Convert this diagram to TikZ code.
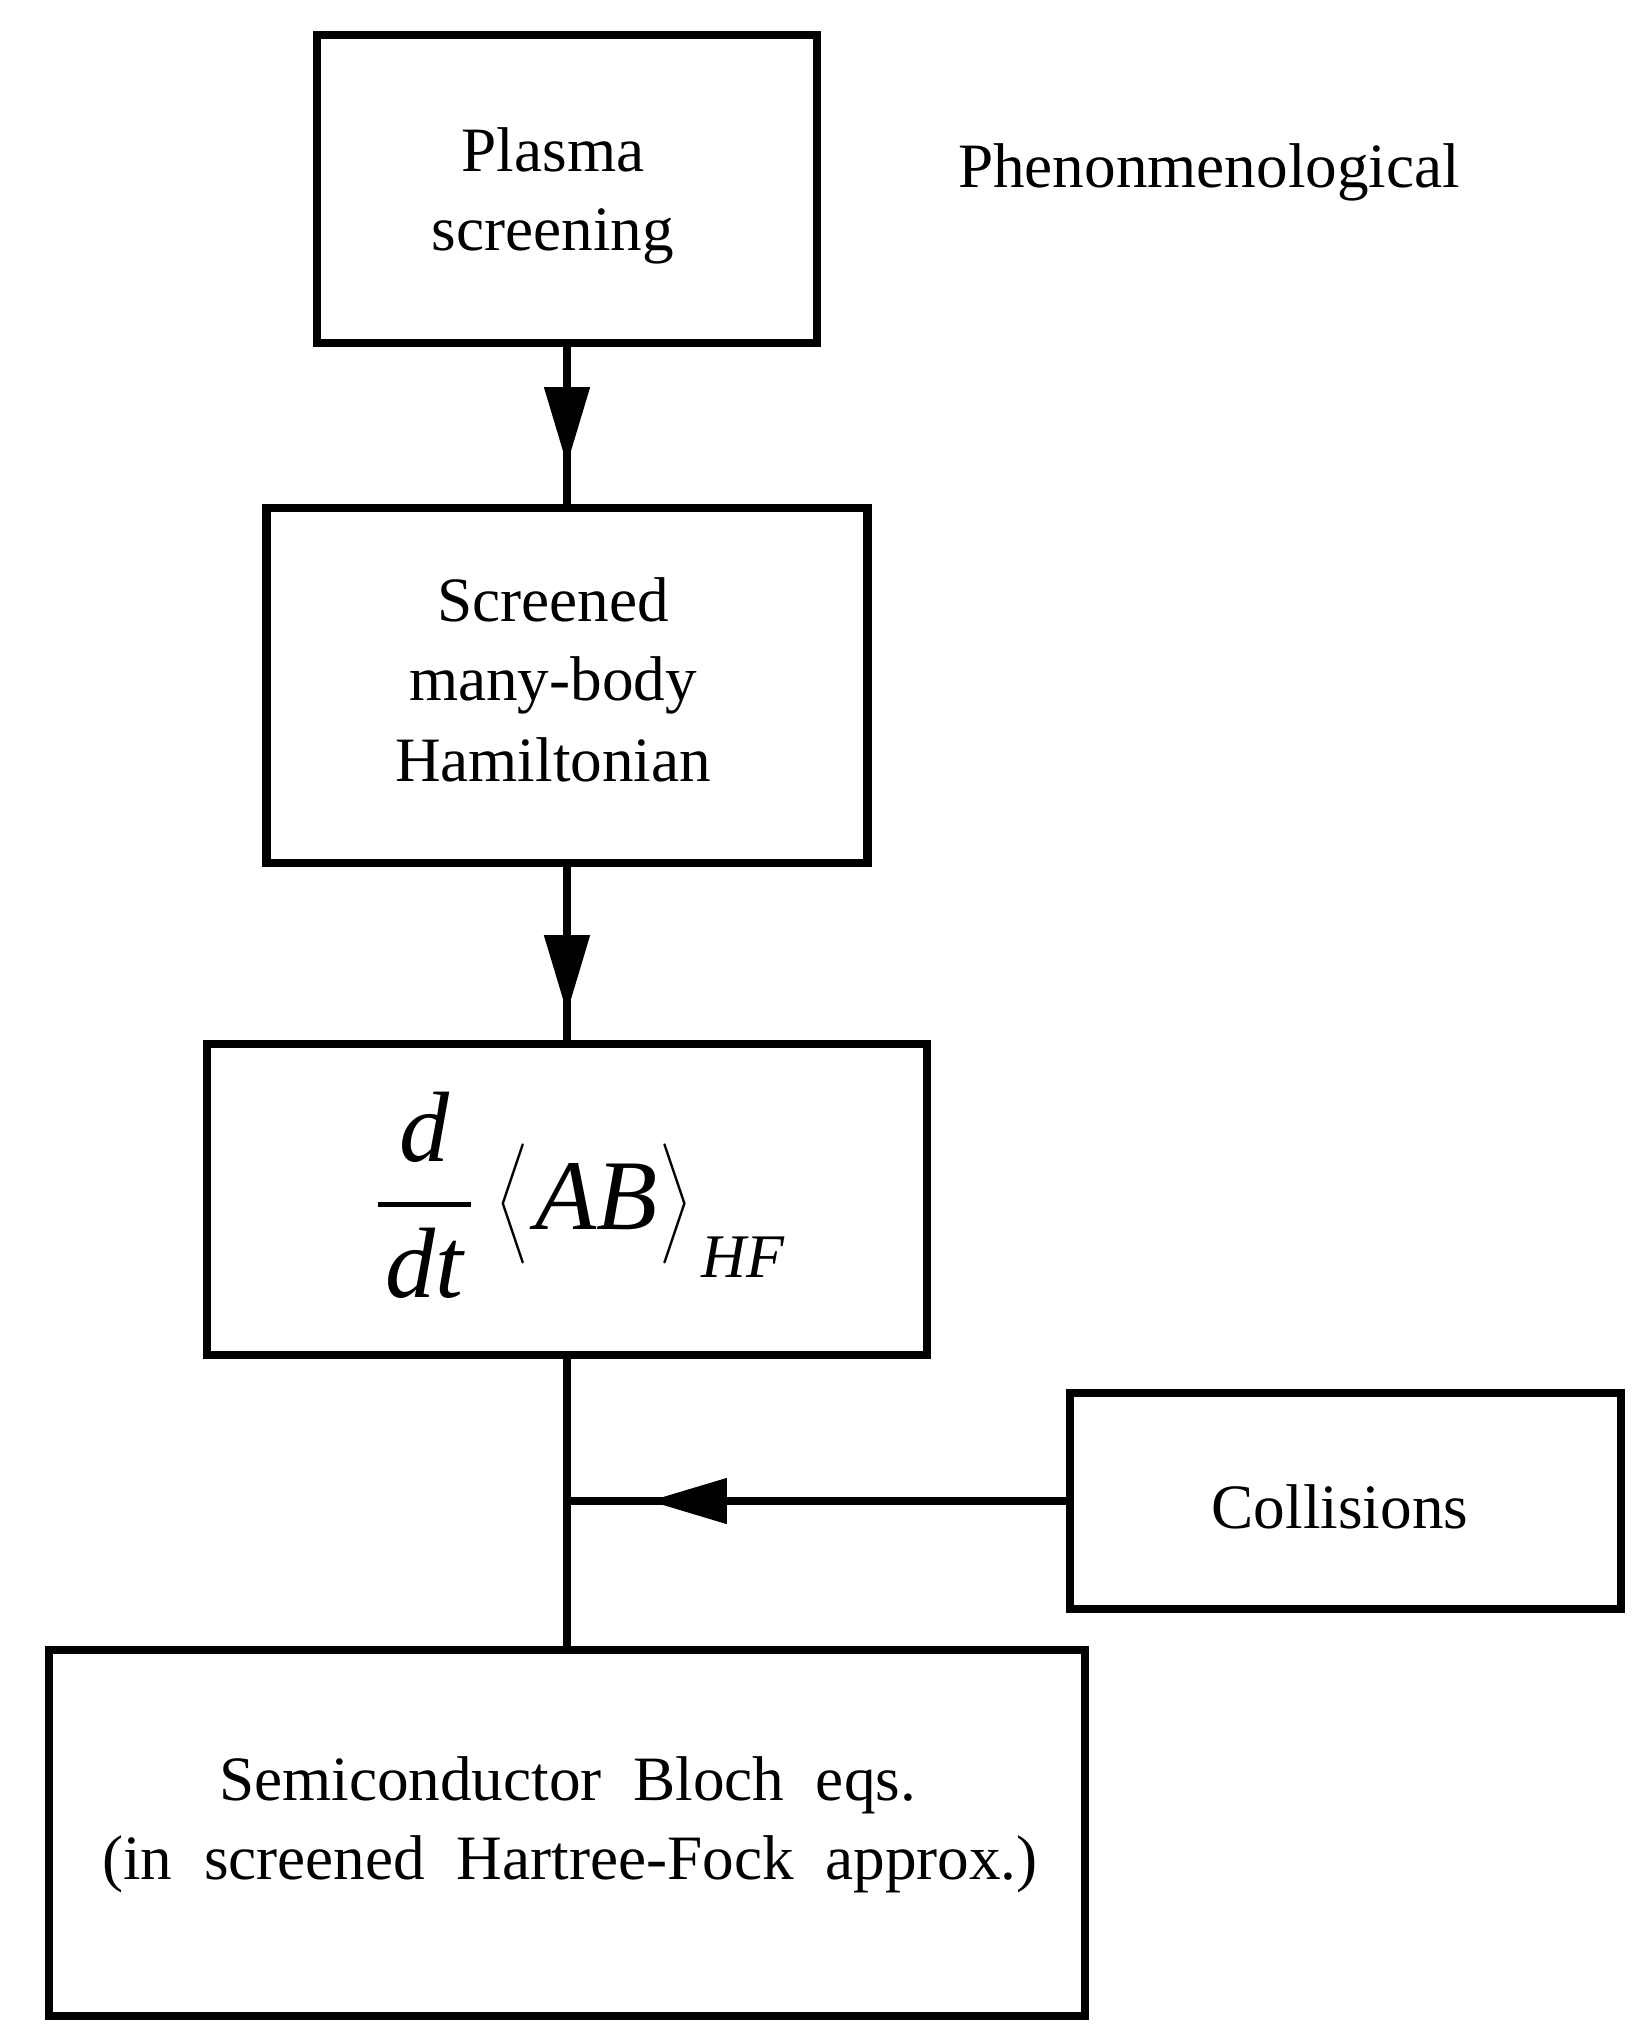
\documentclass[tikz,border=0pt]{standalone}
\usepackage{fontspec}
\setmainfont{Liberation Serif}
\usetikzlibrary{arrows.meta,decorations.markings}
\begin{document}
\begin{tikzpicture}[x=0.25pt,y=-0.25pt,
  box/.style={draw, line width=2.2pt, inner sep=0pt, outer sep=0pt, fill=white},
  txt/.style={font=\fontsize{15.8}{19}\selectfont, anchor=base, inner sep=0pt},
  conn/.style={line width=2pt},
  tipmark/.style={postaction={decorate}, decoration={markings,
     mark=at position #1 with {\arrow{Triangle[length=19.5pt,width=11pt]}}}}]
\useasboundingbox[fill=white] (0,0) rectangle (1642,2043);

% boxes
\node[box, minimum width=125pt,    minimum height=77pt]    (b1) at (567,189) {};
\node[box, minimum width=150.25pt, minimum height=88.75pt] (b2) at (567,685.5) {};
\node[box, minimum width=180pt,    minimum height=77.75pt] (b3) at (567,1199.5) {};
\node[box, minimum width=137.75pt, minimum height=54pt]    (b4) at (1345.5,1501) {};
\node[box, minimum width=259pt,    minimum height=91.5pt]  (b5) at (567,1833) {};

% texts
\node[txt] (t1a) at (553,172) {Plasma};
\node[txt] (t1b) at (553,251) {screening};
\node[txt] (t2a) at (553,621) {Screened};
\node[txt] (t2b) at (553,700) {many-body};
\node[txt] (t2c) at (553,781) {Hamiltonian};
\node[txt] (t4)  at (1340,1528) {Collisions};
\node[txt] (t5a) at (567.5,1800) {\spaceskip=0.5em\relax Semiconductor Bloch eqs.};
\node[txt] (t5b) at (570,1879) {\spaceskip=0.5em\relax (in screened Hartree-Fock approx.)};
\node[txt] (ph) at (1209,188) {Phenonmenological};

% formula
\node[anchor=base west, inner sep=0pt] (f) at (372,1229)
  {\fontsize{25}{30}\selectfont$\displaystyle{\textit{d}\above1.2pt\kern2pt\textit{dt}\kern2pt}\kern1pt\left\langle\kern1.5pt\rule[-7.25pt]{0pt}{28.5pt}\textit{AB}\kern0.5pt\right\rangle_{\raisebox{-2.6pt}{\kern2.5pt\fontsize{15.5}{18}\selectfont\itshape HF}}$};

% connectors
\coordinate (j) at (b4.west -| b3.south);
\draw[conn, tipmark=0.74] (b1.south) -- (b2.north);
\draw[conn, tipmark=0.83] (b2.south) -- (b3.north);
\draw[conn] (b3.south) -- (b3.south |- b5.north);
\draw[conn, tipmark=0.837] (b4.west) -- (j);
\end{tikzpicture}
\end{document}
